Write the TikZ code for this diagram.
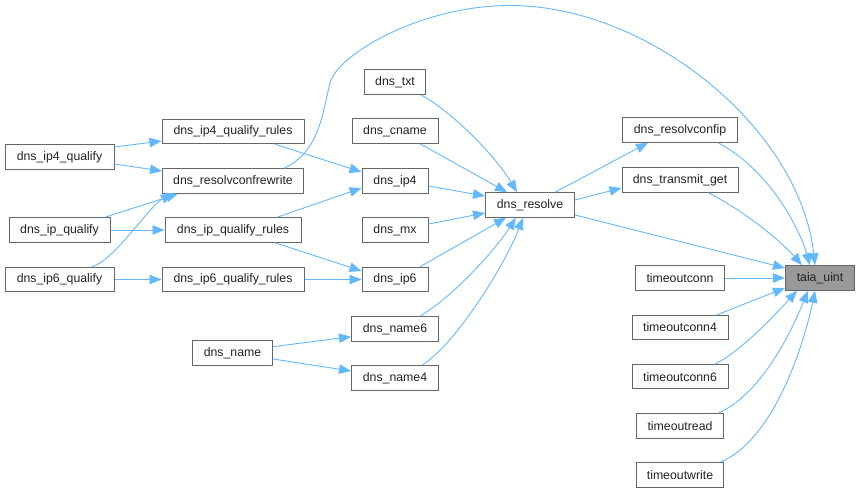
\documentclass[tikz,border=0pt]{standalone}
\usepackage{fontspec}
\setmainfont{Liberation Sans}
\usetikzlibrary{arrows.meta}
\definecolor{edgeblue}{HTML}{63B8FF}
\definecolor{boxline}{HTML}{666666}
\definecolor{selfill}{HTML}{999999}
\definecolor{txtcol}{HTML}{222222}
\begin{document}
\begin{tikzpicture}[x=1pt,y=-1pt,
  box/.style={draw=boxline, line width=1pt, fill=white, minimum height=24.5pt, inner xsep=0pt, inner ysep=0pt,
    font=\fontsize{12.3}{14}\selectfont, text=txtcol},
  sel/.style={box, fill=selfill},
  edge/.style={draw=edgeblue, line width=0.9pt, -{Triangle[length=12pt,width=9.5pt]}}]
\useasboundingbox (0,0) rectangle (860,493);
% nodes
\node[box, minimum width=109pt] (q4) at (59.5,157) {dns\_ip4\_qualify};
\node[box, minimum width=101pt] (q) at (59.5,230) {dns\_ip\_qualify};
\node[box, minimum width=109pt] (q6) at (59.5,279.5) {dns\_ip6\_qualify};
\node[box, minimum width=142pt] (r4) at (233,131.5) {dns\_ip4\_qualify\_rules};
\node[box, minimum width=141pt] (rcw) at (233,181) {dns\_resolvconfrewrite};
\node[box, minimum width=136pt] (r) at (233,230) {dns\_ip\_qualify\_rules};
\node[box, minimum width=142pt] (r6) at (233,279.5) {dns\_ip6\_qualify\_rules};
\node[box, minimum width=80pt] (name) at (232.5,353) {dns\_name};
\node[box, minimum width=61pt] (txt) at (395,82) {dns\_txt};
\node[box, minimum width=86pt] (cname) at (395,131) {dns\_cname};
\node[box, minimum width=66pt] (ip4) at (395,181) {dns\_ip4};
\node[box, minimum width=66pt] (mx) at (395,230) {dns\_mx};
\node[box, minimum width=66pt] (ip6) at (395,279.5) {dns\_ip6};
\node[box, minimum width=87pt] (name6) at (395,329) {dns\_name6};
\node[box, minimum width=87pt] (name4) at (395,378) {dns\_name4};
\node[box, minimum width=89pt] (resolve) at (530,205) {dns\_resolve};
\node[box, minimum width=115pt] (rcfip) at (680,130) {dns\_resolvconfip};
\node[box, minimum width=116pt] (tget) at (680,180) {dns\_transmit\_get};
\node[box, minimum width=89pt] (tc) at (680,278) {timeoutconn};
\node[box, minimum width=96pt] (tc4) at (680,327.5) {timeoutconn4};
\node[box, minimum width=96pt] (tc6) at (680,376.7) {timeoutconn6};
\node[box, minimum width=87pt] (tr) at (680,426) {timeoutread};
\node[box, minimum width=87pt] (tw) at (680,475) {timeoutwrite};
\node[sel, minimum width=69pt] (taia) at (820,278) {taia\_uint};
% left edges
\draw[edge] ([shift={(0,-10)}]q4.east) -- ([shift={(0,9.5)}]r4.west);
\draw[edge] ([shift={(0,7)}]q4.east) -- ([shift={(0,-10)}]rcw.west);
\draw[edge] ([shift={(45.5,0)}]q.north) -- ([shift={(-55,0)}]rcw.south);
\draw[edge] ([shift={(32.5,0)}]q6.north) .. controls (115,260) and (150,205) .. ([shift={(-60,0)}]rcw.south);
\draw[edge] (q.east) -- (r.west);
\draw[edge] (q6.east) -- (r6.west);
\draw[edge] ([shift={(42,0)}]r4.south) -- ([shift={(0,-9)}]ip4.west);
\draw[edge] ([shift={(44,0)}]r.north) -- ([shift={(0,7)}]ip4.west);
\draw[edge] ([shift={(42,0)}]r.south) -- ([shift={(0,-8.5)}]ip6.west);
\draw[edge] (r6.east) -- (ip6.west);
\draw[edge] ([shift={(0,-6.3)}]name.east) -- ([shift={(0,7.7)}]name6.west);
\draw[edge] ([shift={(0,6)}]name.east) -- ([shift={(0,-7)}]name4.west);
% into dns_resolve
\draw[edge] ([shift={(25.7,0)}]txt.south) .. controls (450,110) and (495,155) .. ([shift={(-13,0)}]resolve.north);
\draw[edge] ([shift={(25,0)}]cname.south) -- ([shift={(-23,0)}]resolve.north);
\draw[edge] ([shift={(0,5)}]ip4.east) -- ([shift={(0,-9)}]resolve.west);
\draw[edge] ([shift={(0,-6)}]mx.east) -- ([shift={(0,8)}]resolve.west);
\draw[edge] ([shift={(25,0)}]ip6.north) -- ([shift={(-24,0)}]resolve.south);
\draw[edge] ([shift={(25,0)}]name6.north) .. controls (455,295) and (495,250) .. ([shift={(-14,0)}]resolve.south);
\draw[edge] ([shift={(27,0)}]name4.north) .. controls (455,345) and (505,265) .. ([shift={(-7,0)}]resolve.south);
% out of dns_resolve
\draw[edge] ([shift={(25,0)}]resolve.north) -- ([shift={(-32,0)}]rcfip.south);
\draw[edge] ([shift={(0,-5)}]resolve.east) -- ([shift={(0,8)}]tget.west);
\draw[edge] ([shift={(0,10)}]resolve.east) -- ([shift={(0,-10)}]taia.west);
% into taia_uint
\draw[edge] ([shift={(38,0)}]rcfip.south) .. controls (770,170) and (800,230) .. ([shift={(-10,0)}]taia.north);
\draw[edge] ([shift={(28,0)}]tget.south) .. controls (740,208) and (780,240) .. ([shift={(-18,0)}]taia.north);
\draw[edge] (tc.east) -- (taia.west);
\draw[edge] ([shift={(37,0)}]tc4.north) -- ([shift={(0,10)}]taia.west);
\draw[edge] ([shift={(35,0)}]tc6.north) .. controls (740,352) and (775,315) .. ([shift={(-23,0)}]taia.south);
\draw[edge] ([shift={(38,0)}]tr.north) .. controls (760,395) and (790,335) .. ([shift={(-12,0)}]taia.south);
\draw[edge] ([shift={(40,0)}]tw.north) .. controls (775,440) and (805,340) .. ([shift={(-5,0)}]taia.south);
\draw[edge] ([shift={(51,0)}]rcw.north) .. controls (320,152) and (323,110) .. (330,83)
  .. controls (337,55) and (420,5.5) .. (510,5.5)
  .. controls (650,5.5) and (800,130) .. ([shift={(-5,0)}]taia.north);
\end{tikzpicture}
\end{document}
